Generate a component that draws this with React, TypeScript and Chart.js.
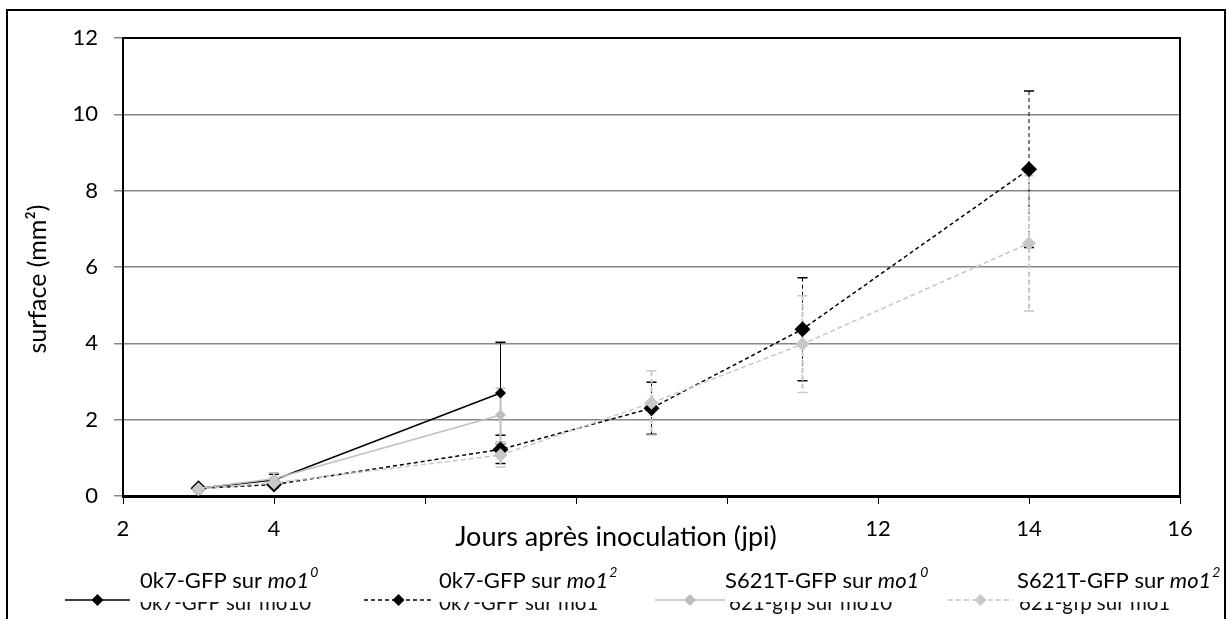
import React, { useEffect, useRef } from "react";
import { Chart, registerables } from "chart.js";
Chart.register(...registerables);

const FONT = "Lato, 'Open Sans', sans-serif";

// ---- data ----
const daysShort = [3, 4, 7];
const daysLong = [3, 4, 7, 9, 11, 14];
const ok7Mo10 = [0.2, 0.42, 2.7];
const ok7Mo10Err = [0.05, 0.15, 1.33];
const ok7Mo12 = [0.2, 0.3, 1.22, 2.3, 4.37, 8.56];
const ok7Mo12Err = [0.04, 0.08, 0.37, 0.68, 1.35, 2.05];
const s621Mo10 = [0.2, 0.45, 2.12];
const s621Mo10Err = [0.05, 0.16, 0.7];
const s621Mo12 = [0.18, 0.35, 1.07, 2.44, 3.98, 6.62];
const s621Mo12Err = [0.04, 0.1, 0.31, 0.84, 1.27, 1.77];

const xTickValues = [2, 4, 6, 8, 10, 12, 14, 16];
const xTickLabels = ["2", "4", "", "", "", "12", "14", "16"];
const yTickValues = [0, 2, 4, 6, 8, 10, 12];

const legendTitles = ["0k7-GFP sur ", "0k7-GFP sur ", "S621T-GFP sur ", "S621T-GFP sur "];
const legendSups = ["0", "2", "0", "2"];
const legendHidden = ["0k7-GFP sur mo10", "0k7-GFP sur mo1", "621-gfp sur mo10", "621-gfp sur mo1"];

const BLACK = "#000000";
const GRAY = "#BFBFBF";
const GRAY2 = "#C8C8C8";

const seriesStyle = [
  { color: BLACK, dash: [] as number[], radius: 5.5, errWidth: 1, capColor: BLACK },
  { color: BLACK, dash: [4, 3], radius: 8, errWidth: 1, capColor: BLACK },
  { color: GRAY, dash: [] as number[], radius: 5.5, errWidth: 2, capColor: GRAY },
  { color: GRAY2, dash: [5, 3], radius: 7, errWidth: 2, capColor: GRAY2 },
];

const seriesX = [daysShort, daysLong, daysShort, daysLong];
const seriesY = [ok7Mo10, ok7Mo12, s621Mo10, s621Mo12];
const seriesErr = [ok7Mo10Err, ok7Mo12Err, s621Mo10Err, s621Mo12Err];

function diamond(ctx: CanvasRenderingContext2D, x: number, y: number, r: number, color: string) {
  ctx.beginPath();
  ctx.moveTo(x, y - r);
  ctx.lineTo(x + r, y);
  ctx.lineTo(x, y + r);
  ctx.lineTo(x - r, y);
  ctx.closePath();
  ctx.fillStyle = color;
  ctx.fill();
}

const decorPlugin = {
  id: "decor",
  beforeDatasetsDraw(chart: any) {
    const ctx = chart.ctx as CanvasRenderingContext2D;
    const xs = chart.scales.x;
    const ys = chart.scales.y;
    ctx.save();
    for (let s = 0; s < 4; s++) {
      const st = seriesStyle[s];
      const xv = seriesX[s];
      const yv = seriesY[s];
      const ev = seriesErr[s];
      for (let i = 0; i < xv.length; i++) {
        const px = xs.getPixelForValue(xv[i]);
        const top = ys.getPixelForValue(yv[i] + ev[i]);
        const bot = ys.getPixelForValue(Math.max(0, yv[i] - ev[i]));
        ctx.strokeStyle = st.color;
        ctx.lineWidth = st.errWidth;
        ctx.setLineDash(st.dash);
        ctx.beginPath();
        ctx.moveTo(px, top);
        ctx.lineTo(px, bot);
        ctx.stroke();
        ctx.setLineDash([]);
        ctx.strokeStyle = st.capColor;
        ctx.lineWidth = 1.5;
        ctx.beginPath();
        ctx.moveTo(px - 5, top);
        ctx.lineTo(px + 5, top);
        ctx.moveTo(px - 5, bot);
        ctx.lineTo(px + 5, bot);
        ctx.stroke();
      }
    }
    ctx.restore();
  },
  afterDraw(chart: any) {
    const ctx = chart.ctx as CanvasRenderingContext2D;
    const a = chart.chartArea;
    ctx.save();
    // outer frame
    ctx.strokeStyle = BLACK;
    ctx.lineWidth = 2;
    ctx.strokeRect(7, 10, 1218, 700);
    // plot top and right border
    ctx.beginPath();
    ctx.moveTo(a.left, a.top);
    ctx.lineTo(a.right, a.top);
    ctx.lineTo(a.right, a.bottom);
    ctx.stroke();

    // axis titles
    ctx.fillStyle = BLACK;
    ctx.textAlign = "center";
    ctx.textBaseline = "middle";
    ctx.font = `27px ${FONT}`;
    ctx.fillText("Jours après inoculation (jpi)", 616, 537);
    ctx.save();
    ctx.font = `25px ${FONT}`;
    ctx.translate(38, 279);
    ctx.rotate(-Math.PI / 2);
    ctx.fillText("surface (mm²)", 0, 0);
    ctx.restore();

    // legend
    const lineX = [[65, 130], [364, 433], [655, 725], [948, 1013]];
    const hiddenX = [140, 439, 729, 1019];
    const titleX = [140, 439, 725, 1017];
    const lineY = 600;
    ctx.textAlign = "left";
    ctx.textBaseline = "alphabetic";
    ctx.font = `20.5px ${FONT}`;
    ctx.fillStyle = "#111";
    for (let i = 0; i < 4; i++) ctx.fillText(legendHidden[i], hiddenX[i], 610);
    ctx.fillStyle = "#fff";
    ctx.fillRect(20, 560, 1195, 42);
    for (let i = 0; i < 4; i++) {
      const st = seriesStyle[i];
      ctx.strokeStyle = st.color;
      ctx.lineWidth = 1.5;
      ctx.setLineDash(st.dash);
      ctx.beginPath();
      ctx.moveTo(lineX[i][0], lineY);
      ctx.lineTo(lineX[i][1], lineY);
      ctx.stroke();
      ctx.setLineDash([]);
      diamond(ctx, (lineX[i][0] + lineX[i][1]) / 2, lineY, 6, st.color);
    }
    ctx.fillStyle = BLACK;
    for (let i = 0; i < 4; i++) {
      let x = titleX[i];
      ctx.font = `22px ${FONT}`;
      ctx.fillText(legendTitles[i], x, 588);
      x += ctx.measureText(legendTitles[i]).width;
      ctx.font = `italic 22px ${FONT}`;
      ctx.fillText("mo1", x, 588);
      x += ctx.measureText("mo1").width + 1;
      ctx.font = `italic 14px ${FONT}`;
      ctx.fillText(legendSups[i], x, 577);
    }
    ctx.restore();
  },
};

export default function App() {
  const ref = useRef<HTMLCanvasElement>(null);
  useEffect(() => {
    document.body.style.margin = "0";
    const mk = (i: number, label: string, order: number) => ({
      label,
      data: seriesX[i].map((x, k) => ({ x, y: seriesY[i][k] })),
      borderColor: seriesStyle[i].color,
      backgroundColor: seriesStyle[i].color,
      borderWidth: 1.5,
      borderDash: seriesStyle[i].dash,
      pointStyle: "rectRot" as const,
      pointRadius: seriesStyle[i].radius,
      pointBorderWidth: 0,
      pointBackgroundColor: seriesStyle[i].color,
      tension: 0,
      order,
    });
    const chart = new Chart(ref.current!, {
      type: "line",
      data: {
        datasets: [
          mk(0, legendHidden[0], 3),
          mk(1, legendHidden[1], 2),
          mk(2, legendHidden[2], 1),
          mk(3, legendHidden[3], 0),
        ],
      },
      options: {
        animation: false,
        responsive: false,
        devicePixelRatio: 1,
        layout: { padding: { left: 0, top: 38, right: 51, bottom: 0 } },
        plugins: { legend: { display: false }, tooltip: { enabled: false } },
        scales: {
          x: {
            type: "linear",
            min: 2,
            max: 16,
            afterFit: (s: any) => { s.height = 123; },
            afterBuildTicks: (s: any) => { s.ticks = xTickValues.map((v) => ({ value: v })); },
            ticks: {
              autoSkip: false,
              maxRotation: 0,
              color: BLACK,
              font: { family: FONT, size: 22 },
              padding: 12,
              callback: (v: any) => xTickLabels[xTickValues.indexOf(Number(v))] ?? "",
            },
            grid: { drawOnChartArea: false, drawTicks: true, tickLength: 8, tickColor: BLACK, tickWidth: 1 },
            border: { color: BLACK, width: 3 },
          },
          y: {
            min: 0,
            max: 12,
            afterFit: (s: any) => { s.width = 123; },
            afterBuildTicks: (s: any) => { s.ticks = yTickValues.map((v) => ({ value: v })); },
            ticks: { color: BLACK, font: { family: FONT, size: 22 }, padding: 16 },
            grid: { color: "#868686", lineWidth: 1.5, tickLength: 9, tickColor: "#868686" },
            border: { color: BLACK, width: 2 },
          },
        },
      },
      plugins: [decorPlugin],
    });
    return () => chart.destroy();
  }, []);
  return (
    <div style={{ position: "absolute", left: 0, top: 0, width: 1231, height: 619 }}>
      <canvas ref={ref} width={1231} height={619} />
    </div>
  );
}
